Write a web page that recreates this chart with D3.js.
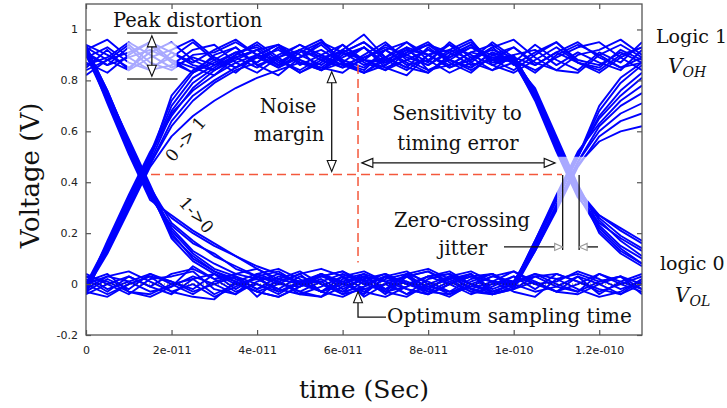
<!DOCTYPE html>
<html>
<head>
<meta charset="utf-8">
<script src="https://cdn.jsdelivr.net/npm/d3@7"></script>
<style>
  body { margin: 0; background: #fff; }
  svg { display: block; }
</style>
</head>
<body>
<svg id="chart" width="727" height="408"></svg>
<script>
// Sample instants of every folded trace (seconds)
const timeSec = [0, 5e-12, 1e-11, 1.5e-11, 2e-11, 2.5e-11, 3e-11, 3.5e-11, 4e-11, 4.5e-11,
  5e-11, 5.5e-11, 6e-11, 6.5e-11, 7e-11, 7.5e-11, 8e-11, 8.5e-11, 9e-11, 9.5e-11,
  1e-10, 1.05e-10, 1.1e-10, 1.15e-10, 1.2e-10, 1.25e-10, 1.3e-10];

// Bit pattern 1-1-1
const steadyHigh = [
  [0.91,0.86,0.93,0.85,0.89,0.95,0.88,0.83,0.90,0.94,0.87,0.84,0.91,0.95,0.89,0.85,0.83,0.90,0.94,0.88,0.84,0.90,0.95,0.87,0.85,0.92,0.88],
  [0.85,0.92,0.84,0.94,0.87,0.83,0.90,0.93,0.86,0.82,0.89,0.94,0.87,0.84,0.92,0.95,0.88,0.83,0.87,0.93,0.96,0.89,0.84,0.83,0.90,0.94,0.89],
  [0.94,0.90,0.85,0.91,0.95,0.88,0.84,0.90,0.95,0.89,0.83,0.88,0.92,0.98,0.89,0.85,0.93,0.87,0.83,0.90,0.93,0.86,0.91,0.95,0.89,0.85,0.87],
  [0.87,0.83,0.90,0.95,0.88,0.85,0.82,0.89,0.92,0.86,0.92,0.96,0.87,0.83,0.86,0.92,0.87,0.95,0.89,0.84,0.87,0.94,0.88,0.84,0.91,0.87,0.95],
  [0.92,0.96,0.89,0.84,0.86,0.92,0.94,0.87,0.83,0.89,0.92,0.84,0.87,0.93,0.85,0.82,0.90,0.92,0.96,0.86,0.83,0.88,0.93,0.87,0.84,0.90,0.93],
  [0.82,0.88,0.94,0.87,0.84,0.90,0.91,0.95,0.90,0.88,0.83,0.87,0.94,0.88,0.87,0.93,0.84,0.86,0.91,0.94,0.88,0.84,0.89,0.93,0.95,0.89,0.84]
];

// Bit pattern 0-0-0
const steadyLow = [
  [0.02,-0.03,0.03,-0.01,-0.04,0.02,0.04,-0.02,0.03,-0.03,0.00,0.04,-0.02,0.02,-0.04,0.03,-0.01,-0.03,0.02,0.04,-0.02,0.01,-0.03,0.03,0.00,-0.04,0.02],
  [-0.03,0.02,-0.02,0.04,0.01,-0.03,0.00,0.03,-0.05,0.02,0.05,0.00,-0.03,0.03,0.01,-0.04,0.02,0.04,-0.02,-0.04,0.01,0.03,-0.01,-0.03,0.04,0.01,-0.02],
  [0.04,0.00,-0.04,0.02,0.03,0.05,-0.02,-0.04,0.01,0.04,0.01,-0.03,0.03,-0.05,0.00,0.03,0.05,0.01,-0.03,0.00,0.03,-0.02,0.04,0.01,-0.03,0.00,0.03],
  [-0.02,0.03,0.01,-0.03,-0.01,0.07,0.02,0.04,0.06,0.01,-0.03,0.01,0.04,0.00,0.03,-0.02,-0.04,0.00,0.03,0.01,-0.03,-0.05,0.02,0.04,0.01,0.03,-0.04],
  [0.00,-0.04,0.00,0.03,-0.03,-0.05,-0.06,0.01,-0.03,-0.05,-0.01,0.03,0.00,-0.03,0.02,0.04,-0.02,-0.05,0.00,0.03,0.05,0.00,-0.03,-0.04,0.00,0.03,0.00],
  [0.03,0.01,-0.03,-0.04,0.00,0.02,-0.04,0.00,0.02,-0.02,-0.04,-0.05,0.02,0.04,-0.03,-0.01,0.03,0.00,0.04,-0.03,0.00,0.04,0.02,-0.02,-0.05,-0.03,0.02]
];

// Bit pattern 1-0-0
const fallThenLow = [
  [0.93,0.76,0.56,0.37,0.22,0.13,0.08,0.04,0.02,-0.02,0.03,0.00,-0.04,0.01,0.04,0.00,-0.03,0.01,0.04,-0.02,0.01,0.04,0.00,-0.03,0.01,0.03,-0.02],
  [0.94,0.73,0.53,0.35,0.26,0.20,0.15,0.11,0.07,0.04,0.00,0.03,0.05,0.01,-0.03,-0.05,0.00,0.03,-0.02,0.01,0.05,0.01,-0.03,0.00,0.04,0.00,-0.03],
  [0.90,0.75,0.57,0.39,0.20,0.10,0.05,0.02,-0.02,0.03,0.01,-0.03,0.00,0.04,0.01,0.03,0.05,0.00,-0.04,-0.01,0.03,0.00,0.01,0.05,0.02,-0.02,0.01],
  [0.92,0.72,0.52,0.34,0.23,0.16,0.12,0.06,0.03,0.00,0.04,0.06,0.03,-0.02,0.00,0.03,-0.03,-0.04,0.01,0.04,0.00,-0.03,-0.01,0.03,-0.04,0.01,0.04],
  [0.91,0.75,0.55,0.37,0.18,0.09,0.04,0.00,-0.03,-0.05,-0.01,0.02,-0.03,-0.01,0.03,0.01,-0.02,0.03,0.00,-0.04,-0.02,0.03,0.04,0.01,-0.02,-0.04,0.00]
];

// Bit pattern 0-1-1
const riseThenHigh = [
  [-0.02,0.16,0.34,0.51,0.72,0.83,0.87,0.91,0.87,0.93,0.86,0.90,0.94,0.87,0.84,0.91,0.95,0.88,0.85,0.91,0.88,0.83,0.90,0.94,0.90,0.85,0.89],
  [-0.01,0.13,0.30,0.47,0.64,0.74,0.80,0.85,0.89,0.85,0.91,0.95,0.88,0.85,0.92,0.87,0.83,0.89,0.93,0.88,0.93,0.87,0.84,0.90,0.92,0.96,0.90],
  [-0.04,0.15,0.33,0.50,0.68,0.79,0.85,0.90,0.94,0.88,0.84,0.89,0.91,0.95,0.88,0.84,0.90,0.94,0.87,0.84,0.90,0.92,0.86,0.91,0.87,0.84,0.92],
  [-0.02,0.12,0.29,0.46,0.58,0.66,0.72,0.77,0.81,0.84,0.87,0.85,0.83,0.89,0.93,0.90,0.86,0.92,0.88,0.95,0.89,0.86,0.91,0.87,0.83,0.89,0.93],
  [0.00,0.16,0.33,0.50,0.70,0.81,0.86,0.89,0.85,0.90,0.94,0.89,0.86,0.83,0.88,0.92,0.90,0.85,0.88,0.93,0.86,0.91,0.95,0.88,0.86,0.91,0.87]
];

// Bit pattern 1-1-0
const highThenFall = [
  [0.89,0.93,0.87,0.84,0.91,0.87,0.92,0.96,0.90,0.86,0.89,0.92,0.87,0.83,0.89,0.93,0.90,0.86,0.91,0.89,0.89,0.76,0.57,0.38,0.25,0.17,0.11],
  [0.86,0.89,0.95,0.90,0.85,0.89,0.86,0.91,0.93,0.87,0.92,0.88,0.85,0.90,0.95,0.88,0.84,0.88,0.93,0.90,0.87,0.73,0.54,0.35,0.27,0.21,0.16],
  [0.93,0.88,0.84,0.89,0.92,0.96,0.89,0.85,0.89,0.92,0.87,0.84,0.89,0.93,0.87,0.90,0.94,0.91,0.86,0.88,0.90,0.75,0.56,0.37,0.22,0.14,0.08],
  [0.84,0.88,0.91,0.95,0.91,0.86,0.84,0.88,0.92,0.94,0.90,0.86,0.92,0.88,0.85,0.88,0.92,0.88,0.84,0.89,0.88,0.72,0.52,0.34,0.24,0.18,0.13],
  [0.90,0.86,0.89,0.92,0.88,0.83,0.88,0.93,0.86,0.89,0.94,0.90,0.86,0.89,0.92,0.86,0.88,0.94,0.90,0.86,0.89,0.76,0.56,0.38,0.20,0.12,0.07]
];

// Bit pattern 0-0-1
const lowThenRise = [
  [0.03,-0.02,0.01,0.04,0.00,-0.04,0.01,0.03,-0.02,0.01,0.04,-0.03,0.00,0.03,-0.02,0.01,-0.04,0.00,0.03,0.01,-0.01,0.16,0.33,0.50,0.68,0.79,0.86],
  [-0.04,0.00,0.03,-0.01,0.04,0.06,0.02,-0.03,0.00,-0.04,0.01,0.03,0.05,0.00,-0.03,0.04,0.01,-0.03,-0.01,0.03,0.01,0.14,0.31,0.48,0.62,0.70,0.75],
  [0.01,0.04,-0.03,-0.05,-0.01,0.03,0.00,-0.04,0.04,0.01,-0.03,-0.05,-0.01,0.02,0.04,0.00,0.03,0.05,0.00,-0.03,0.00,0.17,0.34,0.51,0.65,0.74,0.81],
  [0.00,0.03,0.05,0.01,-0.03,0.00,-0.05,-0.01,0.03,0.05,0.00,0.01,-0.04,-0.02,0.00,-0.04,-0.01,0.02,0.04,-0.04,-0.02,0.13,0.30,0.47,0.56,0.60,0.62],
  [-0.03,-0.05,0.00,0.03,0.01,-0.02,0.04,0.01,-0.03,0.00,-0.01,0.04,0.01,-0.04,0.03,0.05,0.00,-0.04,-0.01,0.00,0.01,0.15,0.33,0.50,0.70,0.81,0.87]
];

// Bit pattern 1-0-1
const fallThenRise = [
  [0.90,0.72,0.53,0.35,0.21,0.12,0.06,0.03,0.00,-0.03,0.01,0.04,0.00,-0.03,-0.05,-0.01,0.03,0.04,0.00,-0.03,0.00,0.16,0.33,0.50,0.66,0.76,0.83],
  [0.93,0.76,0.56,0.38,0.24,0.17,0.11,0.07,0.03,0.01,-0.04,-0.01,0.03,0.05,0.01,-0.02,-0.04,0.00,0.03,0.04,-0.01,0.14,0.31,0.48,0.60,0.67,0.71],
  [0.94,0.74,0.54,0.36,0.19,0.11,0.05,0.01,0.04,0.06,0.02,-0.03,-0.05,-0.01,0.03,0.00,-0.02,0.03,0.05,0.01,0.00,0.17,0.35,0.52,0.63,0.72,0.78],
  [0.92,0.71,0.51,0.33,0.27,0.21,0.16,0.11,0.06,0.02,0.00,-0.03,0.01,0.03,-0.02,0.04,0.06,0.02,-0.03,-0.04,-0.01,0.13,0.29,0.46,0.58,0.64,0.67]
];

// Bit pattern 0-1-0
const riseThenFall = [
  [-0.02,0.17,0.35,0.52,0.66,0.77,0.84,0.89,0.92,0.86,0.92,0.89,0.85,0.88,0.94,0.89,0.86,0.91,0.95,0.88,0.88,0.74,0.55,0.36,0.26,0.19,0.14],
  [-0.01,0.13,0.30,0.47,0.62,0.72,0.79,0.84,0.87,0.93,0.88,0.84,0.90,0.93,0.86,0.91,0.94,0.88,0.85,0.91,0.87,0.77,0.58,0.39,0.23,0.15,0.10],
  [-0.03,0.15,0.32,0.49,0.74,0.84,0.89,0.85,0.90,0.94,0.88,0.85,0.91,0.86,0.89,0.95,0.90,0.85,0.89,0.92,0.89,0.73,0.53,0.35,0.21,0.13,0.08],
  [-0.03,0.14,0.31,0.48,0.67,0.76,0.82,0.87,0.90,0.85,0.89,0.95,0.91,0.88,0.84,0.88,0.92,0.89,0.94,0.87,0.88,0.75,0.55,0.37,0.27,0.22,0.17]
];

// Axis ticks
const xTickValues = [0, 2e-11, 4e-11, 6e-11, 8e-11, 1e-10, 1.2e-10];
const xTickLabels = ["0", "2e-011", "4e-011", "6e-011", "8e-011", "1e-010", "1.2e-010"];
const yTickValues = [-0.2, 0, 0.2, 0.4, 0.6, 0.8, 1];
const yTickLabels = ["-0.2", "0", "0.2", "0.4", "0.6", "0.8", "1"];

// Eye measurements (seconds / volts)
const crossingLevel = 0.43;
const samplingTime = 6.36e-11;

const svg = d3.select("#chart");
const plot = { left: 86, right: 642, top: 4, bottom: 335 };

const x = d3.scaleLinear().domain([0, 1.3e-10]).range([plot.left, plot.right]);
const y = d3.scaleLinear().domain([-0.2, 1.1]).range([plot.bottom, plot.top]);

const serif = "'DejaVu Serif', serif";
const sans = "'DejaVu Sans', sans-serif";

svg.append("defs").append("clipPath").attr("id", "plotClip")
  .append("rect")
  .attr("x", plot.left).attr("y", plot.top)
  .attr("width", plot.right - plot.left).attr("height", plot.bottom - plot.top);

// ---- Traces ----
const traces = [].concat(steadyHigh, steadyLow, fallThenLow, riseThenHigh,
  highThenFall, lowThenRise, fallThenRise, riseThenFall);

const line = d3.line()
  .x((d, i) => x(timeSec[i]))
  .y(d => y(d));

svg.append("g").attr("clip-path", "url(#plotClip)")
  .selectAll("path").data(traces).join("path")
  .attr("d", line)
  .attr("fill", "none")
  .attr("stroke", "#0000ff")
  .attr("stroke-width", 1.9)
  .attr("stroke-linejoin", "round");

// Zero reference
svg.append("line")
  .attr("x1", plot.left).attr("x2", plot.right)
  .attr("y1", y(0)).attr("y2", y(0))
  .attr("stroke", "#222").attr("stroke-width", 0.8)
  .attr("stroke-dasharray", "1,2");

// Washed-out highlight boxes
const wash = svg.append("g").attr("fill", "#fff").attr("fill-opacity", 0.66);
wash.append("rect")
  .attr("x", x(9.6e-12)).attr("y", y(0.95))
  .attr("width", x(2.12e-11) - x(9.6e-12)).attr("height", y(0.83) - y(0.95));
wash.append("rect")
  .attr("x", x(1.1015e-10)).attr("y", y(0.5))
  .attr("width", x(1.174e-10) - x(1.1015e-10)).attr("height", y(0.275) - y(0.5));

// ---- Axes ----
const xAxis = d3.axisBottom(x).tickValues(xTickValues)
  .tickFormat((d, i) => xTickLabels[i]).tickSizeInner(-5).tickSizeOuter(0).tickPadding(11);
const yAxis = d3.axisLeft(y).tickValues(yTickValues)
  .tickFormat((d, i) => yTickLabels[i]).tickSizeInner(-5).tickSizeOuter(0).tickPadding(8);

function styleAxis(g) {
  g.select(".domain").remove();
  g.selectAll(".tick line").attr("stroke", "#555").attr("stroke-width", 1.2);
  g.selectAll(".tick text").attr("fill", "#222").style("font-family", sans).style("font-size", "11px");
}

svg.append("g").attr("transform", `translate(0,${plot.bottom})`).call(xAxis).call(styleAxis);
svg.append("g").attr("transform", `translate(${plot.left},0)`).call(yAxis).call(styleAxis);
svg.append("g").attr("transform", `translate(0,${plot.top})`)
  .call(d3.axisTop(x).tickValues(xTickValues).tickFormat("").tickSizeInner(-5).tickSizeOuter(0))
  .call(styleAxis);
svg.append("g").attr("transform", `translate(${plot.right},0)`)
  .call(d3.axisRight(y).tickValues(yTickValues).tickFormat("").tickSizeInner(-5).tickSizeOuter(0))
  .call(styleAxis);

svg.append("rect")
  .attr("x", plot.left).attr("y", plot.top)
  .attr("width", plot.right - plot.left).attr("height", plot.bottom - plot.top)
  .attr("fill", "none").attr("stroke", "#555").attr("stroke-width", 1.3);

// Axis titles
svg.append("text")
  .attr("x", (plot.left + plot.right) / 2).attr("y", 398)
  .attr("text-anchor", "middle")
  .style("font-family", serif).style("font-size", "25px").attr("fill", "#111")
  .text("time (Sec)");
svg.append("text")
  .attr("transform", `translate(39,${(plot.top + plot.bottom) / 2 + 6}) rotate(-90)`)
  .attr("text-anchor", "middle")
  .style("font-family", serif).style("font-size", "26px").attr("fill", "#111")
  .text("Voltage (V)");

// ---- Annotations ----
const ann = svg.append("g");

function arrowHead(tipX, tipY, angle, opts = {}) {
  const len = opts.len || 11, half = opts.half || 4.5;
  const c = Math.cos(angle), s = Math.sin(angle);
  const bx = tipX - c * len, by = tipY - s * len;
  const pts = [[tipX, tipY], [bx - s * half, by + c * half], [bx + s * half, by - c * half]];
  ann.append("path")
    .attr("d", "M" + pts.map(p => p.join(",")).join("L") + "Z")
    .attr("fill", "#fff")
    .attr("stroke", opts.stroke || "#111")
    .attr("stroke-width", 1.1);
}

function segment(x1, y1, x2, y2, stroke, width, dash) {
  ann.append("line")
    .attr("x1", x1).attr("y1", y1).attr("x2", x2).attr("y2", y2)
    .attr("stroke", stroke || "#111").attr("stroke-width", width || 1.3)
    .attr("stroke-dasharray", dash || null);
}

function doubleArrowV(px, y1, y2) {
  segment(px, y1 + 10, px, y2 - 10);
  arrowHead(px, y1, -Math.PI / 2);
  arrowHead(px, y2, Math.PI / 2);
}

function doubleArrowH(py, x1, x2) {
  segment(x1 + 10, py, x2 - 10, py);
  arrowHead(x1, py, Math.PI);
  arrowHead(x2, py, 0);
}

function label(px, py, str, size, anchor, extra) {
  const t = ann.append("text")
    .attr("x", px).attr("y", py)
    .attr("text-anchor", anchor || "middle")
    .style("font-family", serif).style("font-size", size + "px")
    .attr("fill", "#111")
    .text(str);
  if (extra) extra(t);
  return t;
}

// Red guide lines at the crossing level and the sampling instant
const red = "#f4583c";
segment(x(1.52e-11), y(crossingLevel), x(1.113e-10), y(crossingLevel), red, 1.5, "9,5");
segment(x(samplingTime), y(0.86), x(samplingTime), y(0.085), red, 1.5, "9,5");

// Peak distortion
segment(x(9.6e-12), y(0.986), x(2.14e-11), y(0.986), "#333", 1.5);
segment(x(9.6e-12), y(0.805), x(2.14e-11), y(0.805), "#333", 1.5);
doubleArrowV(x(1.54e-11), y(0.975), y(0.816));
label(113, 27, "Peak distortion", 19.5, "start");

// Noise margin
doubleArrowV(x(5.745e-11), y(0.834), y(0.442));
label(288, 113, "Noise", 19.5);
label(289, 141, "margin", 19.5);

// Sensitivity to timing error
doubleArrowH(y(0.476), x(6.45e-11), x(1.097e-10));
label(457, 120, "Sensitivity to", 19.5);
label(458, 150, "timing error", 19.5);

// Zero-crossing jitter
segment(x(1.1145e-10), y(0.428), x(1.1145e-10), y(0.134), "#111", 1.3);
segment(x(1.153e-10), y(0.428), x(1.153e-10), y(0.134), "#111", 1.3);
segment(504, y(0.146), x(1.1145e-10) - 7, y(0.146), "#111", 1.3);
arrowHead(x(1.1145e-10), y(0.146), 0, { len: 8, half: 3.5, stroke: "#999" });
segment(598, y(0.146), x(1.153e-10) + 7, y(0.146), "#111", 1.3);
arrowHead(x(1.153e-10), y(0.146), Math.PI, { len: 8, half: 3.5, stroke: "#999" });
label(462, 227, "Zero-crossing", 19.5);
label(463, 255, "jitter", 19.5);

// Optimum sampling time
ann.append("path")
  .attr("d", `M${x(samplingTime)},${y(-0.03) + 11}V${y(-0.13)}H386`)
  .attr("fill", "none").attr("stroke", "#111").attr("stroke-width", 1.3);
arrowHead(x(samplingTime), y(-0.03), -Math.PI / 2);
label(387, 323, "Optimum sampling time", 20, "start");

// Edge direction labels
label(0, 0, "0 -> 1", 17, "middle", t => t.attr("transform", "translate(190,143) rotate(-50)"));
label(0, 0, "1->0", 17, "middle", t => t.attr("transform", "translate(192,219) rotate(48)"));

// Logic levels
label(656, 43, "Logic 1", 19, "start");
label(668, 73, "", 20, "start", t => {
  t.style("font-style", "italic");
  t.append("tspan").text("V");
  t.append("tspan").attr("dy", 4).style("font-size", "14px").text("OH");
});
label(660, 270, "logic 0", 19, "start");
label(675, 302, "", 20, "start", t => {
  t.style("font-style", "italic");
  t.append("tspan").text("V");
  t.append("tspan").attr("dy", 4).style("font-size", "14px").text("OL");
});
</script>
</body>
</html>
